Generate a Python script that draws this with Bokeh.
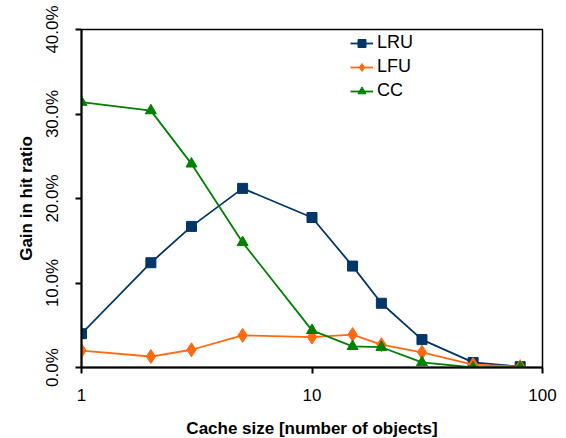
from bokeh.plotting import figure
from bokeh.models import FixedTicker, NumeralTickFormatter, Range1d, Legend, LegendItem
from bokeh.embed import file_html
from bokeh.resources import INLINE

cache_sizes = [1, 2, 3, 5, 10, 15, 20, 30, 50, 80]
lru = [0.040, 0.124, 0.167, 0.212, 0.1775, 0.120, 0.076, 0.033, 0.006, 0.001]
lfu = [0.020, 0.013, 0.021, 0.038, 0.036, 0.039, 0.027, 0.018, 0.0035, 0.001]
cc = [0.314, 0.304, 0.241, 0.148, 0.044, 0.025, 0.024, 0.006, 0.0, 0.0]

x_ticks = [1, 10, 100]
y_ticks = [0.0, 0.1, 0.2, 0.3, 0.4]

FONT = "Liberation Sans"

p = figure(width=566, height=438, frame_width=461, frame_height=338,
           x_axis_type="log", x_range=Range1d(1, 100), y_range=Range1d(0, 0.4),
           output_backend="svg", toolbar_location=None,
           min_border_left=81, min_border_right=24, min_border_top=29, min_border_bottom=71)

p.xgrid.visible = False
p.ygrid.visible = False
p.outline_line_color = "black"
p.outline_line_width = 1.5
p.background_fill_color = "white"
p.border_fill_color = "white"

for ax in (p.xaxis[0], p.yaxis[0]):
    ax.axis_line_color = "black"
    ax.axis_line_width = 2
    ax.major_tick_line_color = "black"
    ax.major_tick_line_width = 2
    ax.major_tick_in = 0
    ax.major_tick_out = 6
    ax.minor_tick_line_color = None
    ax.major_label_text_font = FONT
    ax.major_label_text_font_size = "17px"
    ax.major_label_text_color = "black"
    ax.axis_label_text_font = FONT
    ax.axis_label_text_font_size = "17px"
    ax.axis_label_text_font_style = "bold"
    ax.axis_label_text_color = "black"

p.xaxis.ticker = FixedTicker(ticks=x_ticks)
p.xaxis.formatter = NumeralTickFormatter(format="0")
p.xaxis.axis_label = "Cache size [number of objects]"
p.xaxis.major_label_standoff = 15
p.xaxis.axis_label_standoff = 15

p.yaxis.ticker = FixedTicker(ticks=y_ticks)
p.yaxis.formatter = NumeralTickFormatter(format="0.0%")
p.yaxis.major_label_orientation = "vertical"
p.yaxis.axis_label = "Gain in hit ratio"
p.yaxis.major_label_standoff = 14
p.yaxis.axis_label_standoff = 4

series = [
    ("LRU", lru, "#003668", "square", 10),
    ("LFU", lfu, "#FF6A10", "diamond", 14),
    ("CC", cc, "#008000", "triangle", 11),
]

items = []
for name, vals, color, marker, size in series:
    ln = p.line(cache_sizes, vals, line_color=color, line_width=1.8)
    sc = p.scatter(cache_sizes, vals, marker=marker, size=size,
                   fill_color=color, line_color=color)
    items.append(LegendItem(label=name, renderers=[ln, sc]))

legend = Legend(items=items, location=(269, 266))
legend.background_fill_alpha = 0
legend.border_line_color = None
legend.padding = 0
legend.margin = 0
legend.spacing = 3
legend.glyph_width = 23
legend.glyph_height = 20
legend.label_height = 20
legend.label_standoff = 4
legend.label_text_font = FONT
legend.label_text_font_size = "18px"
legend.label_text_color = "black"
p.add_layout(legend)

open("out.html", "w").write(file_html(p, INLINE))
